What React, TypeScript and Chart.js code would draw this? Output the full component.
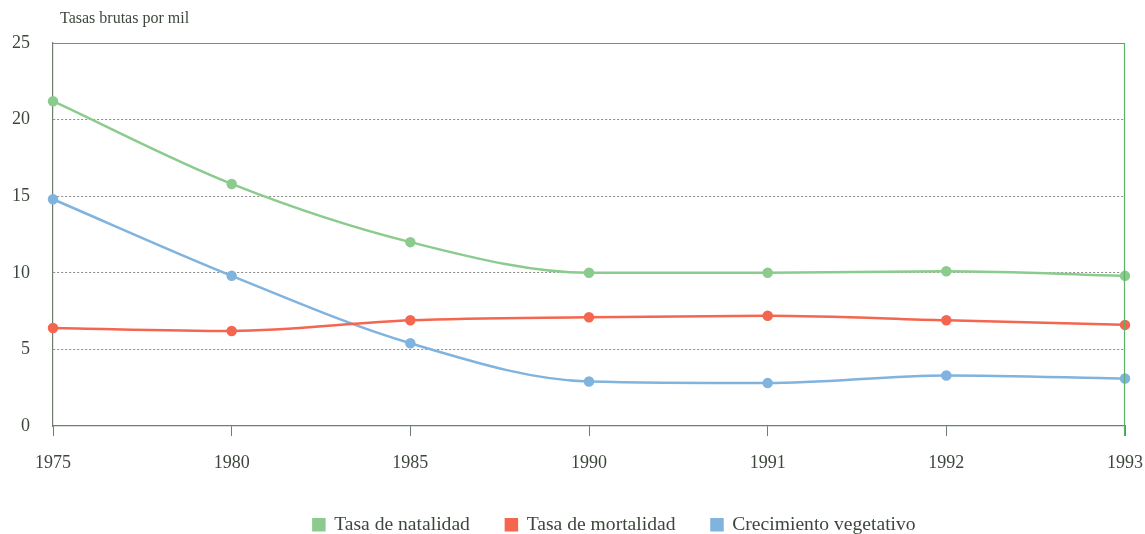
import React, { useEffect, useRef } from "react";
import { Chart, registerables } from "chart.js";

Chart.register(...registerables);

const years = ["1975", "1980", "1985", "1990", "1991", "1992", "1993"];
const natalidad = [21.2, 15.8, 12.0, 10.0, 10.0, 10.1, 9.8];
const mortalidad = [6.4, 6.2, 6.9, 7.1, 7.2, 6.9, 6.6];
const crecimiento = [14.8, 9.8, 5.4, 2.9, 2.8, 3.3, 3.1];
const yTicks = [0, 5, 10, 15, 20, 25];
const titleText = "Tasas brutas por mil";

const FONT = "'Liberation Serif', 'Times New Roman', serif";
const TEXT = "#3d463d";
const AXIS = "#6f7f6f";

const framePlugin = {
  id: "frame",
  afterLayout(chart: any) {
    if (chart.legend) {
      chart.legend.left += 42;
      chart.legend.right += 42;
    }
  },
  afterDraw(chart: any) {
    const { ctx, chartArea } = chart;
    ctx.save();
    ctx.lineWidth = 1.2;
    ctx.strokeStyle = "#7d8a7d";
    ctx.beginPath();
    ctx.moveTo(chartArea.left, chartArea.top + 0.5);
    ctx.lineTo(chartArea.right, chartArea.top + 0.5);
    ctx.stroke();
    ctx.strokeStyle = "#5bb36a";
    ctx.beginPath();
    ctx.moveTo(chartArea.right - 0.5, chartArea.top);
    ctx.lineTo(chartArea.right - 0.5, chartArea.bottom + 10);
    ctx.stroke();
    ctx.fillStyle = TEXT;
    ctx.font = `16px ${FONT}`;
    ctx.textBaseline = "middle";
    ctx.textAlign = "left";
    ctx.fillText(titleText, chartArea.left + 7, chartArea.top - 24);
    ctx.restore();
  },
};

export default function App() {
  const ref = useRef<HTMLCanvasElement>(null);
  useEffect(() => {
    document.body.style.margin = "0";
    const ds = (label: string, data: number[], color: string) => ({
      label,
      data,
      borderColor: color,
      backgroundColor: color,
      pointBackgroundColor: color,
      pointBorderColor: color,
      pointRadius: 4,
      borderWidth: 2.5,
      cubicInterpolationMode: "monotone" as const,
    });
    const chart = new Chart(ref.current!, {
      type: "line",
      data: {
        labels: years,
        datasets: [
          ds("Tasa de natalidad", natalidad, "#8ccb8e"),
          ds("Tasa de mortalidad", mortalidad, "#f4664f"),
          ds("Crecimiento vegetativo", crecimiento, "#80b3de"),
        ],
      },
      options: {
        animation: false,
        responsive: false,
        layout: { padding: { left: 0, right: 0, top: 43, bottom: 0 } },
        plugins: {
          title: { display: false },
          tooltip: { enabled: false },
          legend: {
            position: "bottom",
            maxHeight: 55,
            labels: {
              boxWidth: 11,
              boxHeight: 11,
              padding: 36,
              color: TEXT,
              font: { family: FONT, size: 19.6 },
            },
          } as any,
        },
        scales: {
          x: {
            offset: false,
            afterFit(scale: any) {
              scale.height = 53;
              scale.paddingRight = 20;
              scale.paddingLeft = 0;
            },
            grid: {
              drawOnChartArea: false,
              drawTicks: true,
              tickLength: 10,
              color: AXIS,
            },
            border: { color: AXIS, width: 1.2 },
            ticks: {
              color: TEXT,
              font: { family: FONT, size: 18 },
              padding: 16,
              maxRotation: 0,
            },
          },
          y: {
            min: 0,
            max: 25,
            afterFit(scale: any) {
              scale.width = 53;
            },
            afterBuildTicks(scale: any) {
              scale.ticks = yTicks.map((v) => ({ value: v }));
            },
            grid: {
              drawTicks: false,
              color: (c: any) =>
                c.tick && c.tick.value > 0 && c.tick.value < 25 ? "#8a8a8a" : "rgba(0,0,0,0)",
              lineWidth: 1,
            },
            border: { color: AXIS, width: 1.2, dash: [2, 2] },
            ticks: {
              color: TEXT,
              font: { family: FONT, size: 18 },
              padding: 23,
            },
          },
        },
      },
      plugins: [framePlugin],
    });
    return () => chart.destroy();
  }, []);
  return (
    <div style={{ width: 1145, height: 534 }}>
      <canvas ref={ref} width={1145} height={534} />
    </div>
  );
}
